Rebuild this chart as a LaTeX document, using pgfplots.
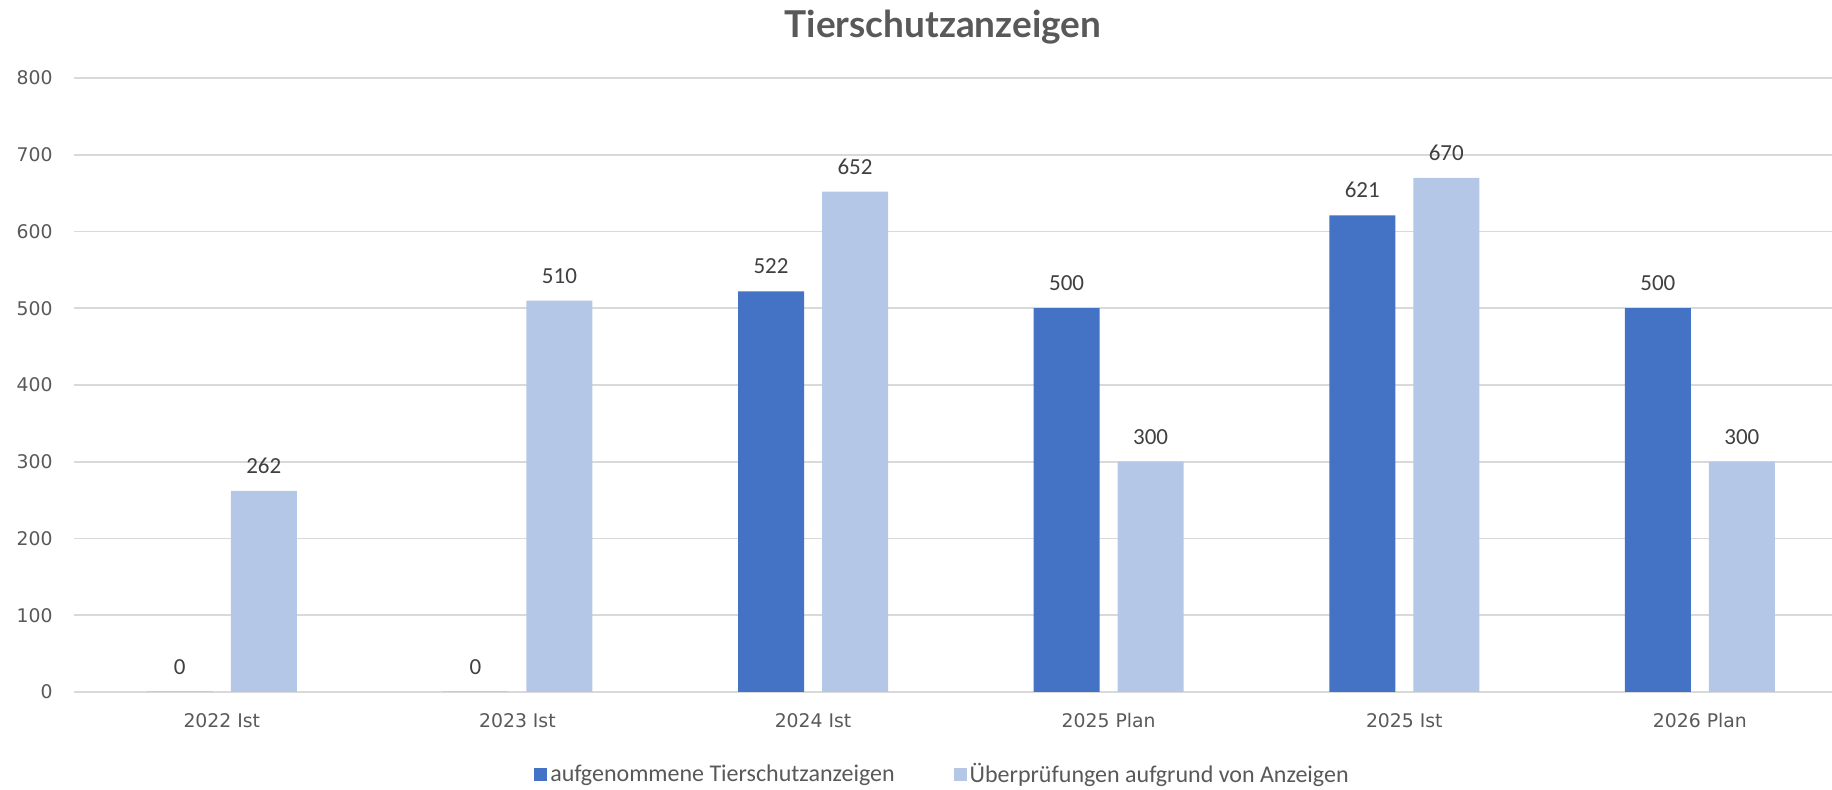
\documentclass[border=0pt]{standalone}
\usepackage{fontspec}
\setmainfont{Carlito}
\newfontfamily\tickfont{DejaVu Sans}
\newfontfamily\titlefont{Lato}
\usepackage{pgfplots}
\pgfplotsset{compat=1.18}
\definecolor{darkblue}{HTML}{4472C4}
\definecolor{lightblue}{HTML}{B4C7E7}
\definecolor{gridgray}{HTML}{D9D9D9}
\definecolor{txtgray}{HTML}{595959}
\definecolor{lblgray}{HTML}{404040}
\begin{document}
\begin{tikzpicture}
\useasboundingbox (0,0) rectangle (916pt,395pt);
\begin{axis}[
  at={(37pt,49pt)}, anchor=south west,
  scale only axis, width=879pt, height=307pt,
  /pgf/number format/assume math mode=true,
  ybar=9pt, bar width=33pt,
  xmin=-0.5, xmax=5.447, ymin=0, ymax=800,
  xtick={0,1,2,3,4,5},
  xticklabels={2022 Ist,2023 Ist,2024 Ist,2025 Plan,2025 Ist,2026 Plan},
  ytick={0,100,...,800},
  ymajorgrids, grid style={gridgray, line width=0.9pt},
  axis line style={draw=none},
  major tick length=0pt,
  tick label style={font=\tickfont\fontsize{9.4}{10}\selectfont, text=txtgray},
  yticklabel style={inner sep=0pt, xshift=-10.5pt},
  xticklabel style={inner sep=0pt, yshift=-10.5pt},
  nodes near coords,
  every node near coord/.append style={font=\fontsize{11.5}{12}\selectfont, text=lblgray, anchor=south, inner sep=0pt, yshift=8.5pt},
  title={Tierschutzanzeigen},
  title style={at={(0.4943,1)}, anchor=base, yshift=14pt, inner sep=0pt, font=\titlefont\bfseries\fontsize{18.5}{20}\selectfont, text=txtgray},
  legend style={at={(0.4943,-0.135)}, anchor=center, draw=none, legend columns=2, font=\fontsize{12}{14}\selectfont, text=txtgray, nodes={inner sep=1.5pt}, /tikz/every even column/.append style={column sep=28pt}},
  legend image code/.code={\fill[#1] (0pt,-3.25pt) rectangle (6.5pt,3.25pt);},
]
\addplot[fill=darkblue, draw=none] coordinates {(0,0) (1,0) (2,522) (3,500) (4,621) (5,500)};
\addlegendentry{aufgenommene Tierschutzanzeigen}
\addplot[fill=lightblue, draw=none] coordinates {(0,262) (1,510) (2,652) (3,300) (4,670) (5,300)};
\addlegendentry{Überprüfungen aufgrund von Anzeigen}
\end{axis}
\end{tikzpicture}
\end{document}
